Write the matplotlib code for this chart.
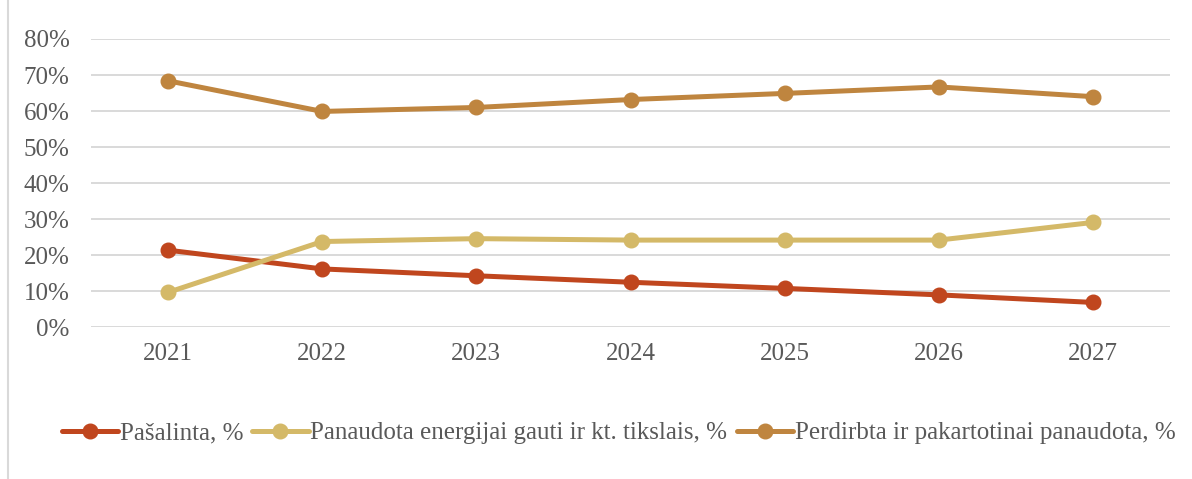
import matplotlib
matplotlib.use("Agg")
import matplotlib.pyplot as plt
from matplotlib.lines import Line2D
from matplotlib.ticker import FuncFormatter

years = ["2021", "2022", "2023", "2024", "2025", "2026", "2027"]
pasalinta = [21.4, 16.2, 14.3, 12.5, 10.8, 9.0, 6.9]
panaudota_energijai = [9.7, 23.8, 24.6, 24.2, 24.2, 24.2, 29.1]
perdirbta = [68.4, 59.9, 61.0, 63.2, 64.9, 66.7, 64.0]

labels = ["Pašalinta, %", "Panaudota energijai gauti ir kt. tikslais, %",
          "Perdirbta ir pakartotinai panaudota, %"]
colors = ["#C0461E", "#D4B968", "#BF853F"]

plt.rcParams['font.family'] = ['Liberation Serif', 'DejaVu Serif']
text_color = "#595959"
fs = 18

fig = plt.figure(figsize=(11.92, 4.79), dpi=100)
ax = fig.add_axes([91/1192, 1 - 327.3/479, (1170-91)/1192, (327.3-39)/479])

x = list(range(len(years)))
series = [pasalinta, panaudota_energijai, perdirbta]
handles = []
for vals, c, lab in zip(series, colors, labels):
    ln, = ax.plot(x, vals, color=c, lw=3.6, marker='o', markersize=10.5,
                  solid_capstyle='round', label=lab, zorder=3)
    handles.append(ln)

ax.set_ylim(0, 80)
ax.set_xlim(-0.5, len(years) - 0.5)
ax.set_yticks(range(0, 81, 10))
ax.yaxis.set_major_formatter(FuncFormatter(lambda v, p: f"{int(v)}%"))
ax.set_xticks(x)
ax.set_xticklabels(years)
ax.grid(axis='y', color='#d9d9d9', lw=1.4, zorder=0)
ax.set_axisbelow(True)
for s in ax.spines.values():
    s.set_visible(False)
ax.tick_params(axis='both', length=0, labelsize=fs, colors=text_color)
ax.tick_params(axis='y', pad=15.5)
ax.tick_params(axis='x', pad=11)

leg = fig.legend(handles=handles, loc='center', bbox_to_anchor=(618.5/1192, 1 - 433/479),
                 ncol=3, frameon=False, fontsize=fs, handlelength=2.25,
                 handletextpad=0.08, columnspacing=0.36, labelcolor=text_color,
                 borderpad=0, borderaxespad=0)

# left border of chart frame
fig.add_artist(Line2D([8/1192, 8/1192], [0, 1], transform=fig.transFigure,
                      color='#d9d9d9', lw=1.5))

fig.savefig("out.png", dpi=100)
